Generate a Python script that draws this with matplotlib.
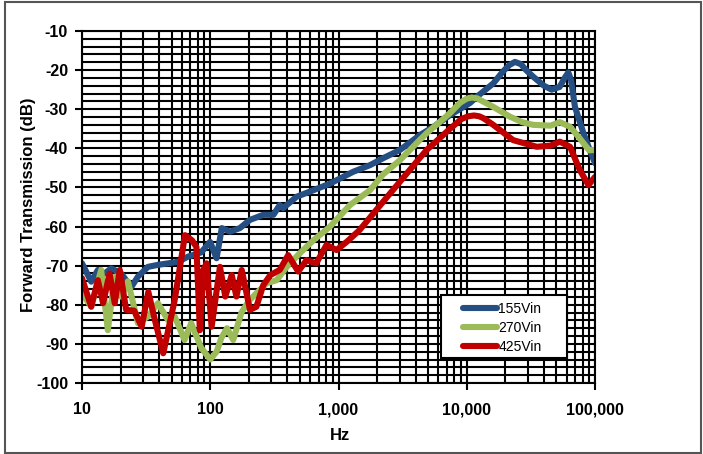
import matplotlib
matplotlib.use("Agg")
import matplotlib.pyplot as plt
from matplotlib.patches import Rectangle
from matplotlib.ticker import LogLocator, MultipleLocator, FuncFormatter, NullFormatter

plt.rcParams['font.family'] = ['Liberation Sans', 'DejaVu Sans']
plt.rcParams['axes.unicode_minus'] = False

# 155Vin
freq_155 = [10, 11.8, 13.3, 15, 16.9, 20.2, 24.2, 27.3, 32.7, 39, 47, 56, 67, 85, 99.6,
            112, 123, 143, 170, 204, 259, 311, 348, 370, 470, 638, 861, 1300, 1760,
            2236, 3020, 4318, 5500, 7400, 10600, 12000, 16100, 19100, 21500, 23770,
            26500, 29000, 33000, 40000, 45900, 53000, 58000, 61900, 65000, 69800,
            81400, 90000, 100000]
db_155 = [-69.4, -74.1, -71.1, -72, -70.7, -72, -75.5, -72.8, -70.3, -69.8, -69.4, -69,
          -67.7, -66.6, -63.9, -68.1, -60.4, -61.3, -60.4, -58.3, -57, -57, -54.5, -55.3,
          -52.4, -50.7, -49, -46, -44.3, -42.5, -40.4, -36.6, -34.5, -31.5, -28.4, -26.8,
          -23.4, -20.4, -18.7, -17.9, -18.5, -20, -21.7, -24, -25, -24.3, -22, -20.6,
          -22.5, -29.4, -36.2, -40, -43.8]

# 270Vin
freq_270 = [10, 11.8, 14.1, 15.9, 18, 20.2, 22.8, 27.3, 32.7, 39.1, 46.8, 52.8, 63, 71,
            85, 100, 112, 122, 135, 151, 175, 200, 222, 275, 330, 395, 500, 638, 860,
            1229, 1760, 2236, 3020, 4318, 4880, 7400, 8900, 10000, 10930, 12000, 13000,
            16100, 21700, 27000, 33000, 45000, 53200, 63900, 72000, 81400, 90000, 100000]
db_270 = [-77.1, -80.5, -71.1, -86.5, -72.8, -77.9, -74, -84.7, -83, -79.6, -83.9, -83,
          -89, -84.7, -91, -94, -92, -88.5, -86, -89, -82, -79, -77.5, -74.5, -73.7,
          -70.3, -66.8, -63.5, -60, -54.5, -50.7, -46.6, -43, -37.8, -36.1, -31, -28.3,
          -27.3, -27, -27.2, -27.8, -29.4, -31.9, -33.3, -34, -34.2, -33.3, -34.5, -36.5,
          -38.7, -40.5, -40.4]

# 425Vin
freq_425 = [10, 11.8, 13.3, 14.6, 16.4, 18, 19.7, 22.1, 25.5, 29.2, 32.9, 37, 43, 52.8,
            63.5, 72, 78, 83, 88.4, 93.6, 102.5, 119, 131, 147, 160, 176, 204, 229, 259,
            294, 348, 405, 485, 563, 670, 806, 965, 1160, 1460, 2236, 3020, 4318, 4880,
            7400, 9100, 10300, 11380, 12500, 13500, 16100, 23000, 35100, 45000, 53200,
            63900, 76000, 88900, 100000]
db_425 = [-73.2, -80.5, -73.7, -79.6, -72, -79.6, -71.1, -81.3, -81.5, -85.6, -76.7,
          -83.9, -92.4, -78.8, -62.2, -63.5, -65.2, -86.5, -71.1, -69.4, -85.6, -70.3,
          -77.9, -72.4, -77.9, -71.1, -81.3, -80.5, -75, -72.4, -71.1, -67.3, -71.5,
          -68.6, -69.4, -64.7, -66, -63.9, -60.9, -53.6, -48.5, -42.4, -40.4, -35,
          -32.5, -31.8, -31.6, -31.8, -32.3, -34, -37.9, -39.6, -39.3, -38.3, -39.6,
          -45.5, -49.4, -47.3]

series = [(freq_155, db_155, '155Vin', '#254E82'),
          (freq_270, db_270, '270Vin', '#9BBB59'),
          (freq_425, db_425, '425Vin', '#C00000')]

fig = plt.figure(figsize=(7.03, 4.54), dpi=100)
fig.patches.append(Rectangle((5 / 703, 1 / 454), 696 / 703, 451 / 454, transform=fig.transFigure,
                             fill=False, edgecolor='#555555', lw=1.5))

ax = fig.add_axes([82 / 703, 1 - 383 / 454, 513 / 703, 352 / 454])
ax.set_xscale('log')

for f, db, name, col in series:
    ax.plot(f, db, color=col, lw=4.4, label=name,
            solid_joinstyle='round', solid_capstyle='round')

ax.set_xlim(10, 100000)
ax.set_ylim(-100, -10)
ax.xaxis.set_major_locator(LogLocator(base=10))
ax.xaxis.set_minor_locator(LogLocator(base=10, subs=range(2, 10)))
ax.xaxis.set_major_formatter(FuncFormatter(lambda v, p: f'{v:,.0f}'))
ax.xaxis.set_minor_formatter(NullFormatter())
ax.yaxis.set_major_locator(MultipleLocator(10))
ax.yaxis.set_minor_locator(MultipleLocator(2))

ax.grid(which='both', color='black', lw=1.5)
ax.set_axisbelow(True)
ax.tick_params(which='minor', length=0)
ax.tick_params(which='major', length=5, width=1.5, direction='out', labelsize=11.5)
ax.tick_params(axis='x', pad=9)
ax.tick_params(axis='y', pad=5)
for lab in ax.get_xticklabels() + ax.get_yticklabels():
    lab.set_fontweight('bold')
for sp in ax.spines.values():
    sp.set_linewidth(1.5)

ax.set_xlabel('Hz', fontsize=12, fontweight='bold')
ax.xaxis.set_label_coords(0.503, -0.127)
ax.set_ylabel('Forward Transmission (dB)', fontsize=12, fontweight='bold')
ax.yaxis.set_label_coords(-0.09, 0.506)

# legend box drawn separately so its padding matches the original
ax.add_patch(Rectangle((0.700, 0.071), 0.2456, 0.179, transform=ax.transAxes,
                       facecolor='white', edgecolor='black', lw=1.5, zorder=4))
leg = ax.legend(loc='center', bbox_to_anchor=(0.819, 0.156), fontsize=10,
                handlelength=2.45, frameon=False, borderpad=0,
                labelspacing=0.36, handletextpad=0.1)
leg.set_zorder(5)

fig.savefig('out.png', dpi=100)
